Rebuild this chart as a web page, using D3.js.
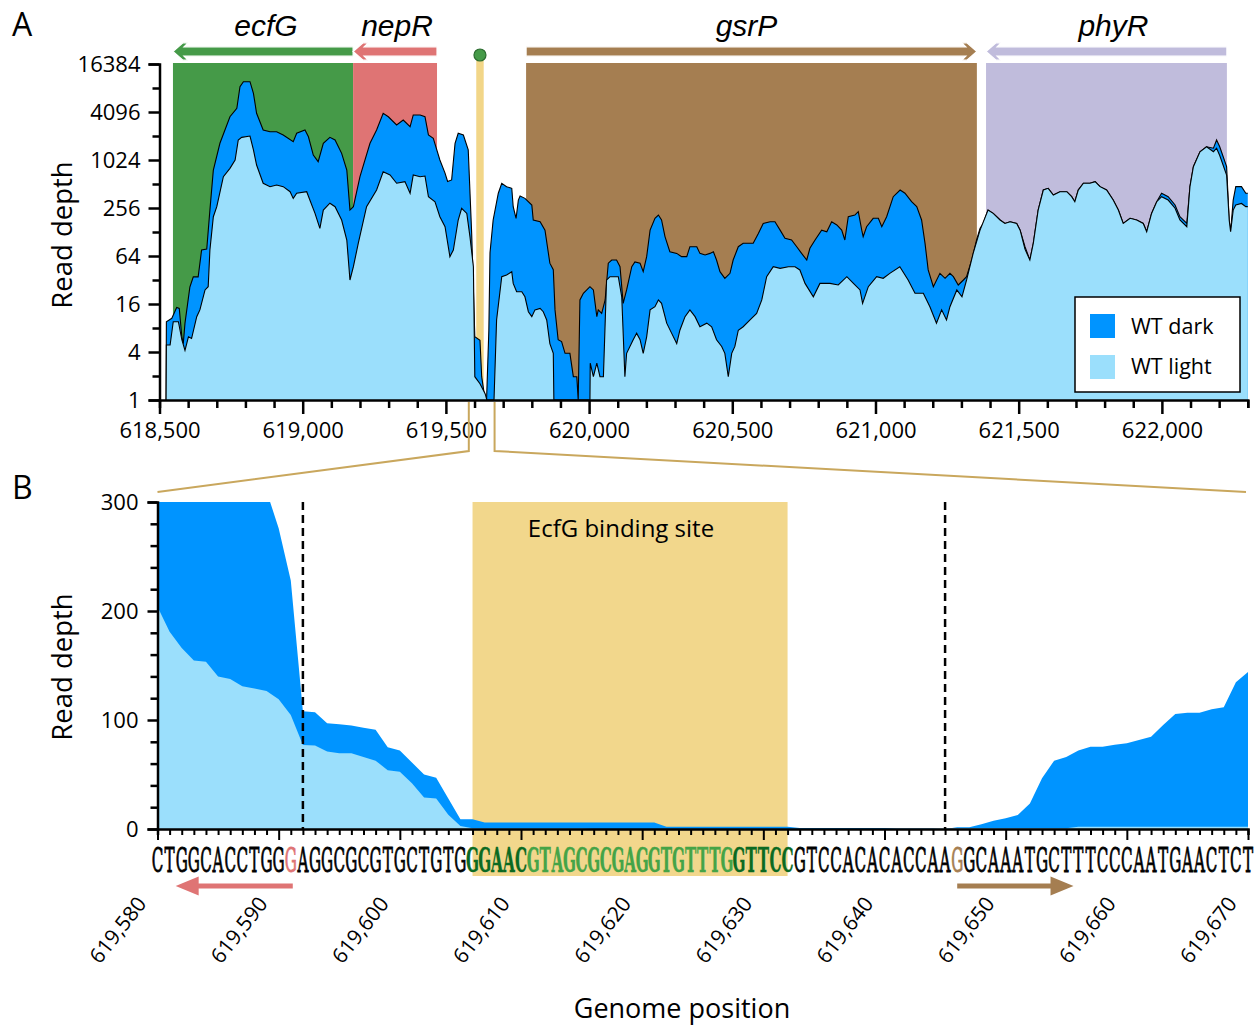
<!DOCTYPE html>
<html>
<head>
<meta charset="utf-8">
<script src="https://cdn.jsdelivr.net/npm/d3@7"></script>
<style>
  html, body { margin: 0; padding: 0; background: #fff; }
  svg { display: block; font-family: "Open Sans", sans-serif; }
</style>
</head>
<body>
<svg id="fig" width="1258" height="1028"></svg>
<script>
// ---------------- Panel A: coverage over the ecfG–phyR locus ----------------
const darkPosA = [618523,618524,618543,618560,618569,618578,618583,618589,618606,618618,618635,618647,618665,618676,618688,618711,618746,618770,618781,618793,618816,618828,618839,618862,618886,618909,618932,618967,618979,619008,619020,619037,619054,619072,619095,619113,619136,619154,619165,619177,619200,619235,619258,619281,619299,619328,619351,619375,619386,619410,619427,619439,619456,619479,619497,619506,619520,619532,619543,619561,619578,619590,619601,619619,619625,619637,619642,619650,619654,619665,619683,619695,619712,619730,619735,619745,619753,619759,619776,619800,619805,619829,619846,619863,619875,619881,619892,619904,619916,619933,619945,619957,619962,619968,619980,620003,620015,620027,620032,620044,620056,620067,620079,620096,620108,620119,620131,620149,620160,620178,620189,620201,620213,620230,620242,620253,620265,620282,620306,620323,620341,620352,620376,620387,620405,620422,620434,620445,620457,620474,620492,620503,620521,620538,620573,620591,620608,620632,620649,620667,620684,620707,620725,620742,620760,620771,620789,620812,620830,620847,620865,620882,620893,620905,620928,620940,620952,620957,620969,620992,621010,621022,621039,621062,621086,621103,621126,621144,621161,621173,621184,621202,621225,621243,621260,621272,621289,621307,621318,621336,621353,621365,621376,621393,621411,621435,621452,621470,621493,621505,621522,621539,621551,621568,621586,621603,621621,621644,621668,621685,621696,621708,621726,621749,621767,621784,621807,621830,621848,621865,621889,621912,621935,621947,621964,621982,621999,622022,622046,622063,622087,622098,622110,622133,622156,622180,622191,622202,622226,622235,622240,622249,622258,622278,622293,622300];
const darkDepthA = [1,9.6,10.6,14.5,14.1,6.2,5.1,9.2,26,35,35,76,78,241,767,1660,3570,4550,8500,9830,9830,7030,3950,2435,2320,2320,2110,1740,2215,2435,2005,1180,975,1660,1970,1825,1240,767,241,266,632,1660,2435,3950,3570,2815,3250,2680,3760,3760,3570,2110,1910,1024,700,550,575,1660,2215,2110,1370,123,6.2,5.6,1.96,1,1,7.5,70,181,392,523,474,452,266,190,322,362,338,279,181,172,135,52,43,13.5,5.7,5.4,3.85,3.85,1.96,1.96,1,18,21.8,26.4,24,11.1,13.5,12.2,18,52,57,57,47,16.3,24,47,54,52,40.7,62.8,135,190,209,181,112,72.5,69,62.8,62.8,83.7,83.7,69,65.9,69,72.5,57,40.7,33.6,38.8,57,83.7,92.3,92.3,123,164,172,172,135,107,101.6,83.7,69,57,80,101.6,135,129,172,157,135,101.6,199,209,230,135,112,149,190,190,149,199,355,430,392,307,266,181,92.3,42.8,26.4,38.8,33.6,38.8,35.2,27.7,32,35.2,57,101.6,142,164,241,219,181,164,172,164,135,83.7,57,92.3,241,430,452,373,410,410,355,307,430,523,523,548,474,430,322,241,164,190,181,164,129,219,307,392,355,279,199,164,474,845,1300,1500,1440,1825,1500,845,181,129,322,474,474,392,392];

const lightPosA = [618523,618524,618537,618548,618566,618578,618589,618601,618612,618630,618641,618659,618670,618676,618688,618700,618723,618746,618764,618775,618787,618816,618828,618839,618862,618886,618909,618932,618956,618967,618979,619014,619025,619043,619060,619072,619095,619113,619136,619154,619165,619177,619194,619223,619258,619281,619305,619328,619357,619375,619386,619410,619427,619439,619462,619479,619497,619514,619526,619543,619555,619573,619584,619596,619601,619619,619637,619643,619668,619677,619695,619712,619730,619735,619747,619765,619776,619788,619800,619811,619829,619840,619852,619863,619875,619877,620003,620004,620015,620027,620038,620050,620061,620073,620102,620114,620125,620131,620154,620166,620178,620189,620201,620213,620230,620242,620253,620271,620288,620306,620317,620335,620352,620370,620387,620411,620428,620445,620463,620474,620486,620498,620509,620521,620538,620562,620585,620603,620620,620643,620667,620696,620719,620736,620754,620783,620806,620841,620870,620900,620923,620946,620955,620975,621004,621027,621050,621085,621114,621138,621167,621190,621213,621231,621248,621260,621284,621302,621318,621341,621365,621393,621411,621435,621452,621470,621493,621505,621522,621539,621551,621568,621586,621603,621621,621644,621668,621685,621696,621708,621726,621749,621767,621784,621807,621830,621848,621865,621889,621912,621935,621947,621964,621982,621999,622022,622046,622063,622087,622098,622110,622133,622156,622180,622191,622202,622226,622235,622240,622249,622258,622278,622293,622300];
const lightDepthA = [1,4.9,4.9,9.6,9.6,5.7,4.2,6.2,5.9,11.1,13.5,24,26.4,76,199,266,632,805,1024,1825,1970,2048,1370,886,523,474,497,474,410,338,392,410,322,219,142,241,294,266,181,101.6,32,47,92.3,266,430,730,664,523,548,392,664,632,645,355,307,199,149,62.8,76,181,254,219,112,47,1.96,1.6,1.2,1,1,10.1,35.2,37,40.7,29,22.8,22.8,19.7,12.8,11.1,13.5,14.1,12.8,10.1,5.1,3.85,1,1,2.9,1.96,2.9,1.96,1.96,32,35.2,35.2,19.7,1.96,3.85,5.7,6.9,5.7,3.85,6.2,13.5,14.8,18,16.3,9.2,6.9,5.1,7.5,11.1,13.5,11.1,8.3,9.2,8.3,5.7,4.7,3.85,1.96,3.85,4.7,7.5,8.3,10.1,12.2,18,35.2,47,44.8,47,47,42.8,29,19.7,29,29,27.7,35.2,29,24,16.3,26.4,35.2,33.6,38.8,47,32,21.8,21.8,14.8,9.2,13.5,10.1,14.8,24,19.7,32,69,135,241,219,181,164,172,164,135,78,57,92.3,241,430,452,373,410,410,355,307,430,523,523,548,474,430,322,241,164,190,181,164,129,219,307,355,322,254,181,149,474,845,1300,1500,1300,1440,1165,664,181,129,241,279,292,266,266];

// Annotated genes (genome coordinates); strand +1 points right, -1 points left
const geneNames  = ["ecfG", "nepR", "gsrP", "phyR"];
const geneStarts = [618547, 619176, 619780, 621386];
const geneEnds   = [619176, 619469, 621354, 622227];
const geneStrand = [-1, -1, 1, -1];

const depthTicks  = [1,2,4,8,16,32,64,128,256,512,1024,2048,4096,8192,16384];
const depthLabels = [1,4,16,64,256,1024,4096,16384];
const posLabelsA  = [618500,619000,619500,620000,620500,621000,621500,622000];

// ---------------- Panel B: per-base coverage around the EcfG site ----------------
const seqStart = 619580;
const sequence = "CTGGCACCTGGGAGGCGCGTGCTGTGGGAACGTAGCGCGAGGTGTTTGGTTCCGTCCACACACCAAGGCAAATGCTTTCCCAATGAACTCT";
const darkDepthB = [1150,1000,880,770,680,600,530,470,400,310,276,228,108,107,97,96,95,93,91,75,72,61,50,47,28,9,9,6,6,6,6,6,6,6,6,6,6,6,6,6,6,6,2,2,2,2,2,2,2,2,2,2,2,1,1,1,1,1,1,1,1,0.5,0.5,0.5,0.5,0,1.5,1.5,4.3,7.6,9.8,12.8,23.5,46.5,62.7,66,72,75.5,75.5,77.4,78.6,81.7,84.7,95.4,105.5,106.7,106.7,109.8,111.6,134.6,144];
const lightDepthB = [204,181,166,154.5,153.5,140,137.6,131,129,126.6,119,104.6,77,76.5,71,69.4,69.4,66,62.7,54,52.6,42,29,28,13,2.8,0.6,0.5,0.5,0.5,0.5,0.5,0.5,0.5,0.5,0.5,0,0,0,0,0,0,0,0,0,0,0,0,0,0,0,0,0,0,0,0,0,0,0,0,0,0,0,0,0,0.8,0.8,0.8,0.8,0.8,0.8,0.8,0.8,0.8,0.8,0.8,2,2,2,2,2,2,2,2,2,2,2,2,2,2,2];
const siteStart = 619606, siteEnd = 619632;          // EcfG binding site
const motifLeft = [619606, 619610], motifRight = [619628, 619632];
const nepRStartBase = 619591, gsrPStartBase = 619646; // highlighted start bases
const tssMarks = [619592, 619645];                    // dashed markers
const depthTicksB = [0,20,40,60,80,100,120,140,160,180,200,220,240,260,280,300];
const depthLabelsB = [0,100,200,300];
const posLabelsB = [619580,619590,619600,619610,619620,619630,619640,619650,619660,619670];

// ---------------- styles ----------------
const C = {
  dark: "#0094ff", light: "#9bdffc",
  genes: {ecfG: "#459a48", nepR: "#df7474", gsrP: "#a57e51", phyR: "#c0bcdc"},
  site: "#f2d78c", siteBar: "#f2d688", dot: "#459a48",
  connector: "#c9a75d",
  motif: "#0b6a22", spacer: "#45a447"
};
const geneLabelNudge = [3, 2, -5, 7];   // px, optical centring of italic labels
const fmt = d3.format(",");
const svg = d3.select("#fig");

function styleAxis(g, size) {
  g.attr("font-family", null).attr("font-size", size);
  g.select(".domain").attr("stroke", "#000").attr("stroke-width", 2.5);
  g.selectAll(".tick line").attr("stroke", "#000").attr("stroke-width", 2.5);
  g.selectAll(".tick text").attr("fill", "#000");
}

// ================= Panel A =================
const xA = d3.scaleLinear().domain([618500, 622300]).range([159.5, 1247.8]);
const yA = d3.scaleLog().base(2).domain([1, 16384]).range([400, 64]).clamp(true);
const A = svg.append("g");

// gene shading
geneNames.forEach((g, i) => {
  A.append("rect")
    .attr("x", xA(geneStarts[i])).attr("y", yA(16384) - 1)
    .attr("width", xA(geneEnds[i]) - xA(geneStarts[i]))
    .attr("height", yA(1) - yA(16384) + 1)
    .attr("fill", C.genes[g]);
});

// binding-site marker
A.append("rect")
  .attr("x", xA(siteStart)).attr("y", 55)
  .attr("width", xA(siteEnd) - xA(siteStart)).attr("height", yA(1) - 55)
  .attr("fill", C.siteBar);

// coverage areas
const areaA = d3.area().x(d => xA(d[0])).y0(yA(1)).y1(d => yA(Math.max(1, d[1])));
const lineA = d3.line().x(d => xA(d[0])).y(d => yA(Math.max(1, d[1])));
const darkA = darkPosA.map((p, i) => [p, darkDepthA[i]]);
const lightA = lightPosA.map((p, i) => [p, lightDepthA[i]]);
A.append("path").attr("d", areaA(darkA)).attr("fill", C.dark);
A.append("path").attr("d", lineA(darkA)).attr("fill", "none").attr("stroke", "#000").attr("stroke-width", 1.1);
A.append("path").attr("d", areaA(lightA)).attr("fill", C.light);
A.append("path").attr("d", lineA(lightA)).attr("fill", "none").attr("stroke", "#000").attr("stroke-width", 1.1);

// gene arrows
const yc = 51.5;
function arrowPath(x0, x1, dir) {
  // x0 = tail, x1 = tip
  const s = dir;  // +1 right, -1 left
  const hb = 4.7, hh = 8.7;
  const p = [
    [x1, yc],
    [x1 - s * 10, yc - hh], [x1 - s * 15, yc - hh], [x1 - s * 11, yc - hb],
    [x0, yc - hb], [x0, yc + hb],
    [x1 - s * 11, yc + hb], [x1 - s * 15, yc + hh], [x1 - s * 10, yc + hh]
  ];
  return "M" + p.map(q => q.join(",")).join("L") + "Z";
}
geneNames.forEach((g, i) => {
  const a = xA(geneStarts[i]), b = xA(geneEnds[i]);
  const tail = geneStrand[i] > 0 ? a : b, tip = geneStrand[i] > 0 ? b : a;
  A.append("path").attr("d", arrowPath(tail, tip, geneStrand[i]))
    .attr("fill", C.genes[g]).attr("stroke", "#fff").attr("stroke-width", 1.2);
  A.append("text")
    .attr("x", (a + b) / 2 + geneLabelNudge[i]).attr("y", 36)
    .attr("text-anchor", "middle")
    .attr("font-family", "Liberation Sans, Arial, sans-serif")
    .attr("font-style", "italic").attr("font-size", 30)
    .text(g);
});
A.append("circle").attr("cx", xA((siteStart + siteEnd) / 2)).attr("cy", 55).attr("r", 6)
  .attr("fill", C.dot).attr("stroke", "#2b6b2f").attr("stroke-width", 1.2);

// axes
const gyA = A.append("g").attr("transform", `translate(${xA.range()[0]},0)`)
  .call(d3.axisLeft(yA).tickValues(depthTicks).tickSizeOuter(0).tickSize(11)
        .tickFormat(d => depthLabels.includes(d) ? d : ""));
styleAxis(gyA, 22);
gyA.selectAll(".tick line").attr("x2", d => depthLabels.includes(d) ? -11 : -7);
gyA.selectAll(".tick text").attr("x", -19).attr("dy", "0.34em");

const gxA = A.append("g").attr("transform", `translate(0,${yA(1)})`)
  .call(d3.axisBottom(xA).tickValues(d3.range(618500, 622301, 100)).tickSizeOuter(0).tickSize(8)
        .tickFormat(d => posLabelsA.includes(d) ? fmt(d) : ""));
styleAxis(gxA, 22);
gxA.selectAll(".tick line").attr("y2", d => posLabelsA.includes(d) ? 14 : 8);
gxA.selectAll(".tick text").attr("y", 22);

A.append("text").attr("transform", "translate(72,235) rotate(-90)")
  .attr("text-anchor", "middle").attr("font-size", 27.5).text("Read depth");

// legend
const L = A.append("g");
L.append("rect").attr("x", 1075).attr("y", 297).attr("width", 165).attr("height", 95)
  .attr("fill", "#fff").attr("stroke", "#000").attr("stroke-width", 1.5);
[["WT dark", C.dark], ["WT light", C.light]].forEach(([t, c], i) => {
  L.append("rect").attr("x", 1090).attr("y", 314 + i * 41).attr("width", 25).attr("height", 24).attr("fill", c);
  L.append("text").attr("x", 1131).attr("y", 334 + i * 40).attr("font-size", 21.5).text(t);
});

svg.append("text").attr("x", 12).attr("y", 36).attr("font-size", 32).text("A");

// ================= Panel B =================
const xB = d3.scaleLinear().domain([seqStart, seqStart + sequence.length - 1]).range([157.5, 1248]);
const yB = d3.scaleLinear().domain([0, 300]).range([829, 502]);
const B = svg.append("g");

// zoom connectors from panel A
const cx0 = xA(seqStart), cx1 = xA(seqStart + sequence.length - 1);
B.append("path").attr("d", `M${cx0},402V451L${xB.range()[0]},492`)
  .attr("fill", "none").attr("stroke", C.connector).attr("stroke-width", 2);
B.append("path").attr("d", `M${cx1},402V451L${xB.range()[1] - 2},492`)
  .attr("fill", "none").attr("stroke", C.connector).attr("stroke-width", 2);

// binding site box
B.append("rect").attr("x", xB(siteStart)).attr("y", yB(300))
  .attr("width", xB(siteEnd) - xB(siteStart)).attr("height", 876 - yB(300))
  .attr("fill", C.site);
B.append("text").attr("x", 621).attr("y", 537).attr("text-anchor", "middle")
  .attr("font-size", 24).text("EcfG binding site");

// per-base coverage
B.append("clipPath").attr("id", "clipB").append("rect")
  .attr("x", xB.range()[0]).attr("y", yB(300)).attr("width", xB.range()[1] - xB.range()[0]).attr("height", yB(0) - yB(300));
const basesB = Array.from(sequence, (ch, i) => seqStart + i);
const areaB = d3.area().x((d, i) => xB(basesB[i])).y0(yB(0)).y1(d => yB(d));
B.append("path").attr("clip-path", "url(#clipB)").attr("d", areaB(darkDepthB)).attr("fill", C.dark);
B.append("path").attr("clip-path", "url(#clipB)").attr("d", areaB(lightDepthB)).attr("fill", C.light);

// dashed markers
tssMarks.forEach(p => {
  B.append("line").attr("x1", xB(p)).attr("x2", xB(p)).attr("y1", yB(300)).attr("y2", yB(0))
    .attr("stroke", "#000").attr("stroke-width", 2.5).attr("stroke-dasharray", "8,5");
});

// axes
const gyB = B.append("g").attr("transform", `translate(${xB.range()[0]},0)`)
  .call(d3.axisLeft(yB).tickValues(depthTicksB).tickSizeOuter(0).tickSize(10)
        .tickFormat(d => depthLabelsB.includes(d) ? d : ""));
styleAxis(gyB, 22);
gyB.selectAll(".tick line").attr("x2", d => depthLabelsB.includes(d) ? -10 : -7);
gyB.selectAll(".tick text").attr("x", -19).attr("dy", "0.34em");

const gxB = B.append("g").attr("transform", `translate(0,${yB(0)})`)
  .call(d3.axisBottom(xB).tickValues(basesB).tickSizeOuter(0).tickSize(6).tickFormat(""));
styleAxis(gxB, 22);
gxB.selectAll(".tick line").attr("stroke-width", 2).attr("y2", d => posLabelsB.includes(d) ? 11 : 6);

// sequence letters
function baseColor(p) {
  if (p === nepRStartBase) return C.genes.nepR;
  if (p === gsrPStartBase) return C.genes.gsrP;
  if ((p >= motifLeft[0] && p <= motifLeft[1]) || (p >= motifRight[0] && p <= motifRight[1])) return C.motif;
  if (p > motifLeft[1] && p < motifRight[0]) return C.spacer;
  return "#000";
}
const inSite = p => p >= siteStart && p <= siteEnd;
B.append("g").selectAll("text").data(Array.from(sequence)).join("text")
  .attr("transform", (d, i) => `translate(${xB(basesB[i])},872) scale(0.46,1)`)
  .attr("text-anchor", "middle")
  .attr("font-family", "DejaVu Serif, serif")
  .attr("font-size", 33)
  .attr("font-weight", (d, i) => inSite(basesB[i]) ? "bold" : "normal")
  .attr("fill", (d, i) => baseColor(basesB[i]))
  .attr("stroke", (d, i) => baseColor(basesB[i]))
  .attr("stroke-width", (d, i) => inSite(basesB[i]) ? 0.4 : 0.9)
  .text(d => d);

// start-codon direction arrows
function smallArrow(xTail, xTip, color) {
  const s = Math.sign(xTip - xTail), y = 886;
  const p = [[xTail, y - 2.5], [xTip - s * 23, y - 2.5], [xTip - s * 23, y - 9.5], [xTip, y],
             [xTip - s * 23, y + 9.5], [xTip - s * 23, y + 2.5], [xTail, y + 2.5]];
  B.append("path").attr("d", "M" + p.map(q => q.join(",")).join("L") + "Z").attr("fill", color);
}
smallArrow(xB(nepRStartBase) + 2, xB(nepRStartBase - 9.5), C.genes.nepR);
smallArrow(xB(gsrPStartBase), xB(gsrPStartBase + 9.6), C.genes.gsrP);

// rotated position labels
posLabelsB.forEach(p => {
  B.append("text").attr("transform", `translate(${xB(p) - 10},904) rotate(-52)`)
    .attr("text-anchor", "end").attr("font-size", 21).text(fmt(p));
});

B.append("text").attr("transform", "translate(72,667) rotate(-90)")
  .attr("text-anchor", "middle").attr("font-size", 27.5).text("Read depth");
B.append("text").attr("x", 682).attr("y", 1018).attr("text-anchor", "middle")
  .attr("font-size", 27).text("Genome position");

svg.append("text").attr("x", 12).attr("y", 499).attr("font-size", 32).text("B");
</script>
</body>
</html>
